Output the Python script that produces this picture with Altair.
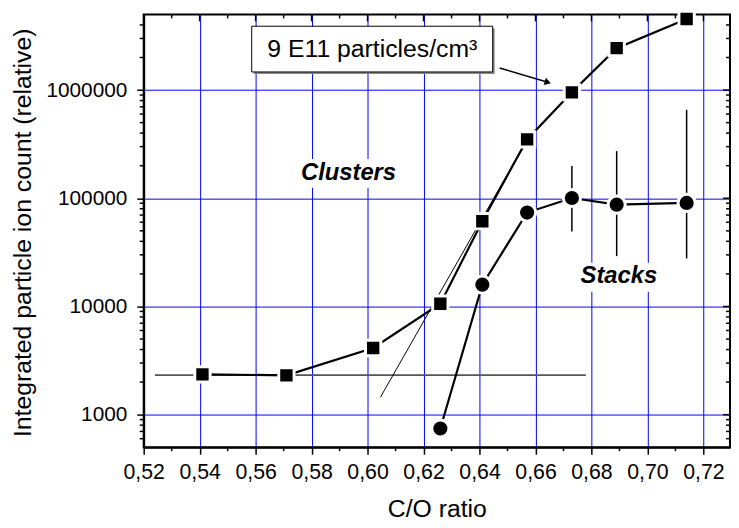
import altair as alt
import pandas as pd

FONT = "Liberation Sans"

# --- data ---
sq_x = [0.541, 0.571, 0.602, 0.626, 0.641, 0.657, 0.673, 0.689, 0.714]
sq_y = [2360, 2310, 4130, 10600, 61400, 350000, 953000, 2440000, 4540000]

ci_x = [0.626, 0.641, 0.657, 0.673, 0.689, 0.714]
ci_y = [745, 15900, 73800, 100600, 87300, 90600]

err_x = [0.673, 0.689, 0.714]
err_lo = [49400, 29200, 27800]
err_hi = [198900, 273000, 658000]

base_x = [0.524, 0.678]
base_y = [2320, 2320]

fit_x = [0.6046, 0.655]
fit_y = [1450, 283000]

# tick values
x_major = [0.52, 0.54, 0.56, 0.58, 0.60, 0.62, 0.64, 0.66, 0.68, 0.70, 0.72]
x_minor = [0.53, 0.55, 0.57, 0.59, 0.61, 0.63, 0.65, 0.67, 0.69, 0.71]
y_major = [1000, 10000, 100000, 1000000]
y_minor = [600, 700, 800, 900,
           2000, 3000, 4000, 5000, 6000, 7000, 8000, 9000,
           20000, 30000, 40000, 50000, 60000, 70000, 80000, 90000,
           200000, 300000, 400000, 500000, 600000, 700000, 800000, 900000,
           2000000, 3000000, 4000000]

# annotations
label_text = ["Clusters", "Stacks"]
label_x = [0.5932, 0.6898]
label_y = [171500, 18900]
label_bg_x = [0.5752, 0.6750]
label_bg_x2 = [0.6112, 0.7050]
label_bg_y = [230700, 25400]
label_bg_y2 = [125000, 13660]

box_text = ["9 E11 particles/cm³"]
box_tx = [0.6017]
box_ty = [2390000]
box_x = [0.5586]
box_x2 = [0.6447]
box_y = [3890000]
box_y2 = [1470000]

arrow_x = [0.6472, 0.6644]
arrow_y = [1600000, 1180000]

W, H = 592, 437

xs = alt.Scale(domain=[0.52, 0.7295], nice=False, zero=False)
ys = alt.Scale(type="log", domain=[500, 5000000], nice=False)

xaxis = alt.Axis(
    values=x_major, title="C/O ratio",
    labelExpr="replace(format(datum.value, '.2f'), '.', ',')",
    grid=True, gridColor="#0000ff", gridWidth=1, gridOpacity=1,
    tickSize=7, tickWidth=1.5, tickColor="black",
    domainColor="black", domainWidth=2,
    labelFont=FONT, labelFontSize=21.5, labelColor="black", labelPadding=8,
    labelFlush=False, labelOverlap=False,
    titleFont=FONT, titleFontSize=25, titleFontWeight="normal", titleColor="black",
    titleX=W / 2, titleY=70, titleBaseline="alphabetic", titleAlign="center",
)
yaxis = alt.Axis(
    values=y_major, format="d", title="Integrated particle ion count (relative)",
    grid=True, gridColor="#0000ff", gridWidth=1, gridOpacity=1,
    tickSize=7, tickWidth=1.5, tickColor="black",
    domainColor="black", domainWidth=2,
    labelFont=FONT, labelFontSize=21, labelColor="black", labelPadding=10,
    labelFlush=False, labelOverlap=False,
    titleFont=FONT, titleFontSize=25, titleFontWeight="normal", titleColor="black",
    titleX=-114, titleY=220, titleBaseline="alphabetic", titleAlign="center", titleAngle=270,
)


def X(f="x"):
    return alt.X(f, type="quantitative", scale=xs, axis=xaxis)


def Y(f="y"):
    return alt.Y(f, type="quantitative", scale=ys, axis=yaxis)


sq = pd.DataFrame({"x": sq_x, "y": sq_y})
ci = pd.DataFrame({"x": ci_x, "y": ci_y})
err = pd.DataFrame({"x": err_x, "y": err_lo, "y2": err_hi})
base = pd.DataFrame({"x": base_x, "y": base_y})
fit = pd.DataFrame({"x": fit_x, "y": fit_y})
labels = pd.DataFrame({"x": label_x, "y": label_y, "t": label_text})
label_bg = pd.DataFrame({"x": label_bg_x, "x2": label_bg_x2, "y": label_bg_y, "y2": label_bg_y2})
box = pd.DataFrame({"x": box_x, "x2": box_x2, "y": box_y, "y2": box_y2})
boxt = pd.DataFrame({"x": box_tx, "y": box_ty, "t": box_text})
arrow = pd.DataFrame({"x": arrow_x, "y": arrow_y})
arrow_head = arrow.iloc[[-1]]
xmaj = pd.DataFrame({"x": x_major})
xmin = pd.DataFrame({"x": x_minor})
ymaj = pd.DataFrame({"y": y_major})
ymin = pd.DataFrame({"y": y_minor})

layers = []

layers.append(alt.Chart(label_bg).mark_rect(fill="white", stroke=None).encode(
    x=X(), x2="x2", y=Y(), y2="y2"))

layers.append(alt.Chart(base).mark_line(color="#555555", strokeWidth=1.6).encode(x=X(), y=Y()))
layers.append(alt.Chart(fit).mark_line(color="black", strokeWidth=1).encode(x=X(), y=Y()))
layers.append(alt.Chart(sq).mark_line(color="black", strokeWidth=2.2).encode(x=X(), y=Y()))
layers.append(alt.Chart(ci).mark_line(color="black", strokeWidth=2.2).encode(x=X(), y=Y()))
layers.append(alt.Chart(err).mark_rule(color="black", strokeWidth=1.5).encode(x=X(), y=Y(), y2="y2"))

layers.append(alt.Chart(sq).mark_point(shape="square", filled=True, fill="black", stroke="white",
                                       strokeWidth=3, size=240, opacity=1).encode(x=X(), y=Y()))
layers.append(alt.Chart(ci).mark_point(shape="circle", filled=True, fill="black", stroke="white",
                                       strokeWidth=3, size=300, opacity=1).encode(x=X(), y=Y()))

layers.append(alt.Chart(labels).mark_text(font=FONT, fontSize=24, fontWeight="bold", fontStyle="italic",
                                          color="black", align="center", baseline="middle").encode(
    x=X(), y=Y(), text="t:N"))

# annotation box with shadow
layers.append(alt.Chart(box).mark_rect(fill="#888888", xOffset=2, yOffset=2, x2Offset=2, y2Offset=2).encode(
    x=X(), x2="x2", y=Y(), y2="y2"))
layers.append(alt.Chart(box).mark_rect(fill="white", stroke="black", strokeWidth=1).encode(
    x=X(), x2="x2", y=Y(), y2="y2"))
layers.append(alt.Chart(boxt).mark_text(font=FONT, fontSize=25, color="black", align="center",
                                        baseline="middle").encode(x=X(), y=Y(), text="t:N"))
layers.append(alt.Chart(arrow).mark_line(color="black", strokeWidth=1.5).encode(x=X(), y=Y()))
layers.append(alt.Chart(arrow_head).mark_point(shape="triangle-right", filled=True, fill="black",
                                               size=55, angle=17, opacity=1).encode(x=X(), y=Y()))

# minor / mirrored ticks
tick_style = dict(color="black", strokeWidth=1.5)
layers.append(alt.Chart(xmin).mark_rule(**tick_style).encode(x=X(), y=alt.value(H), y2=alt.value(H + 4)))
layers.append(alt.Chart(xmaj).mark_rule(**tick_style).encode(x=X(), y=alt.value(0), y2=alt.value(7)))
layers.append(alt.Chart(xmin).mark_rule(**tick_style).encode(x=X(), y=alt.value(0), y2=alt.value(4)))
layers.append(alt.Chart(ymin).mark_rule(**tick_style).encode(y=Y(), x=alt.value(-4), x2=alt.value(0)))
layers.append(alt.Chart(ymaj).mark_rule(**tick_style).encode(y=Y(), x=alt.value(W - 7), x2=alt.value(W)))
layers.append(alt.Chart(ymin).mark_rule(**tick_style).encode(y=Y(), x=alt.value(W - 4), x2=alt.value(W)))

chart = alt.layer(*layers).properties(
    width=W, height=H,
    autosize=alt.AutoSizeParams(type="none"),
    padding={"left": 137, "top": 4, "right": 1, "bottom": 76},
    background="white",
).configure_view(stroke="black", strokeWidth=2)

chart.save("out.html", embed_options={"renderer": "svg", "actions": False})
